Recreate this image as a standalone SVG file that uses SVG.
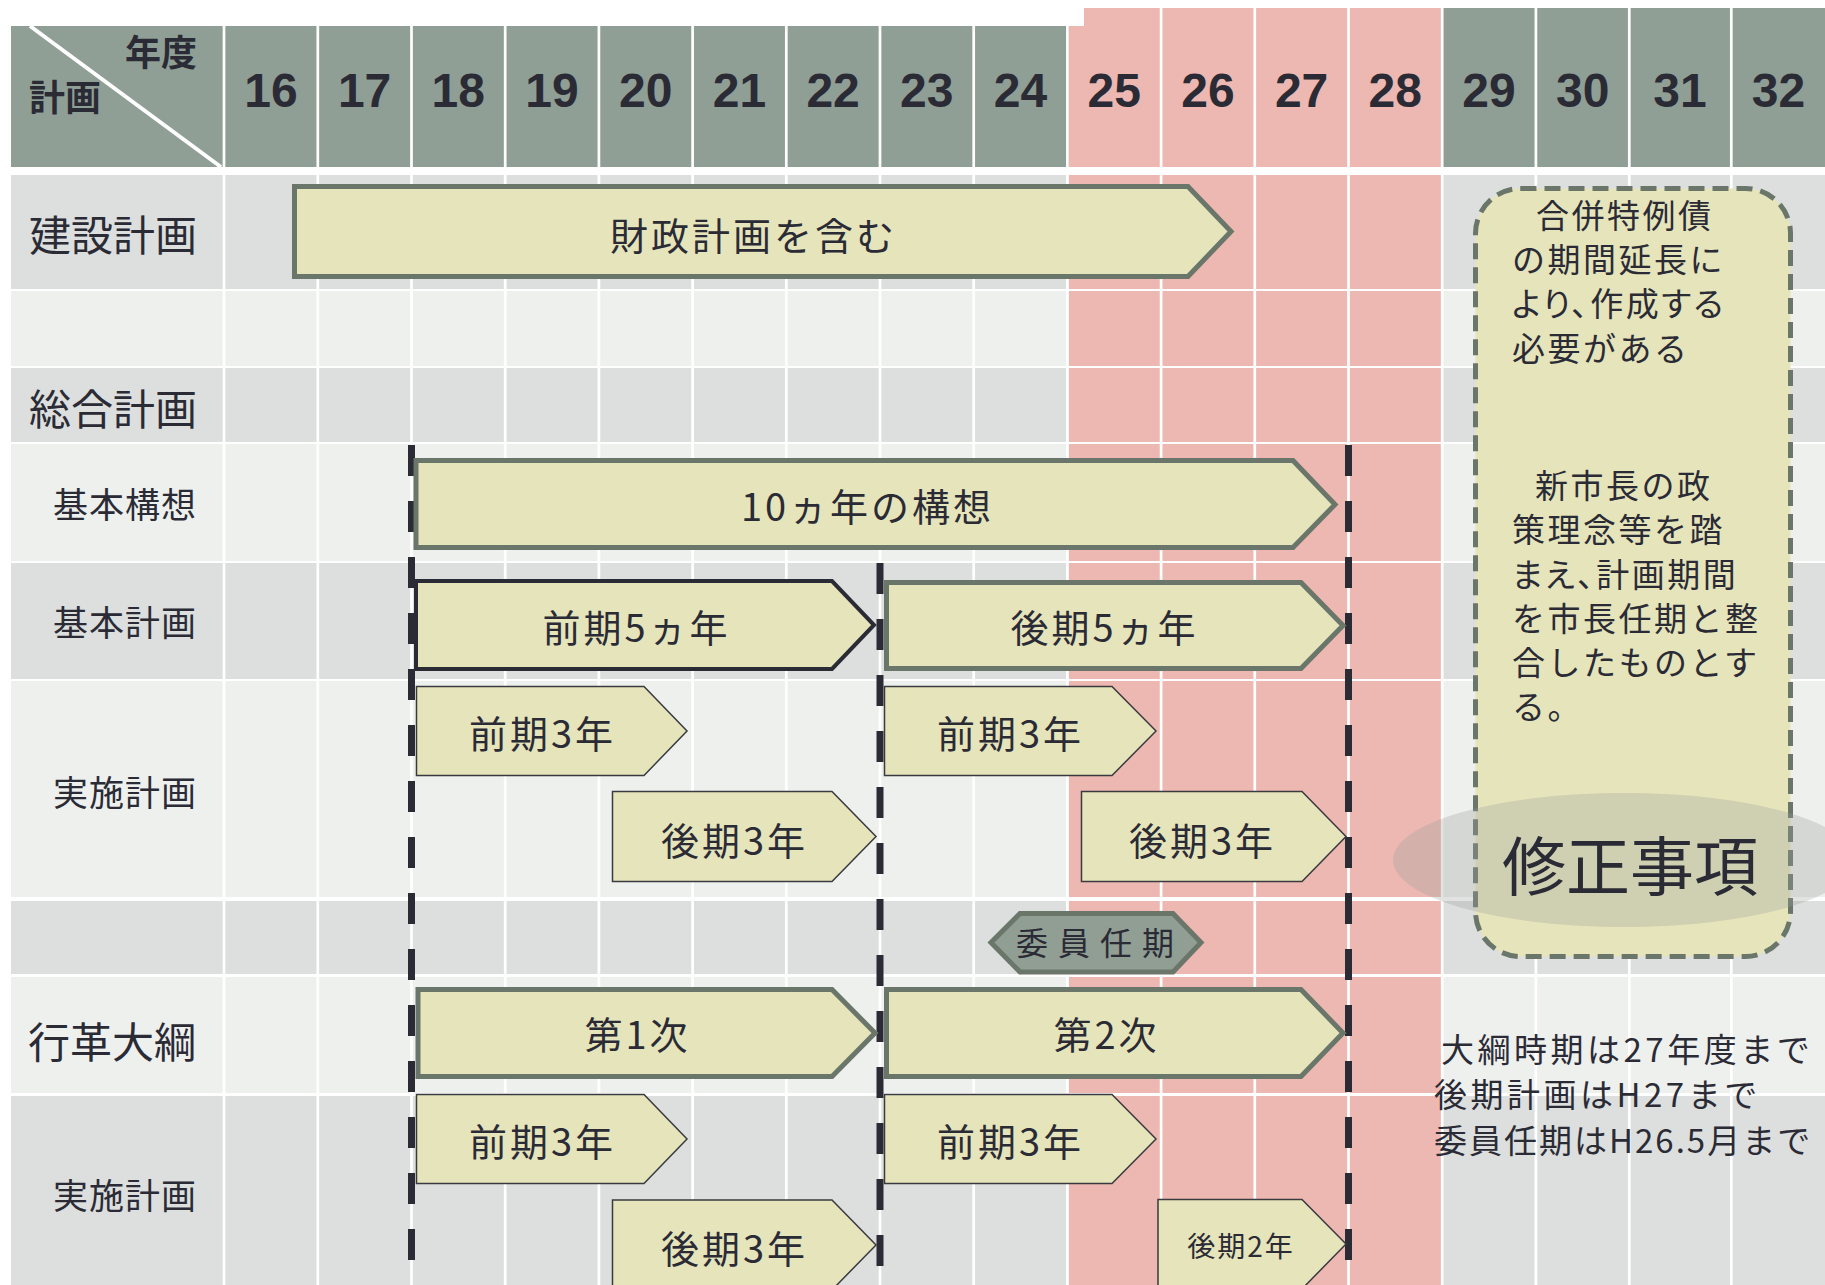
<svg xmlns="http://www.w3.org/2000/svg" width="1825" height="1285" viewBox="0 0 1825 1285">
<defs>
<style>
.hd{fill:#909f95}
.pk{fill:#ecb8b1}
.dk{fill:#dcdfdd}
.lt{fill:#eef0ee}
.gl{stroke:#ffffff;stroke-width:2.7}
.num{font-family:"Liberation Sans",Arial,sans-serif;font-weight:bold;font-size:48px;fill:#2b2b36;text-anchor:middle}
.jp{font-family:"Noto Sans CJK JP","Noto Sans CJK SC",sans-serif;fill:#2b2b36}
.bar{fill:#e5e4ba;stroke:#6b766a;stroke-width:5}
.bardk{fill:#e5e4ba;stroke:#2b2b36;stroke-width:4}
.barth{fill:#e5e4ba;stroke:#3a3a40;stroke-width:1.5}
.lbl{font-size:38px;text-anchor:middle;letter-spacing:3px}
.big{font-size:42px}
.mid{font-size:35px;letter-spacing:1px}
.dash{stroke:#2b2b36;stroke-width:7;stroke-dasharray:31 25;fill:none}
.note{font-size:33px;letter-spacing:2.5px}
.rem{font-size:33px;letter-spacing:3.5px}
.palt{font-feature-settings:"palt" 1}
</style>
</defs>
<rect x="0" y="0" width="1825" height="1285" fill="#ffffff"/>

<g id="grid">
<rect x="11" y="26" width="1058" height="141" class="hd"/>
<rect x="1068.7" y="8" width="372.3" height="159" class="pk"/>
<rect x="1441" y="8" width="384" height="159" class="hd"/>
<rect x="1060" y="0" width="24" height="26" fill="#ffffff"/>

<rect x="11" y="175" width="1814" height="114" class="dk"/>
<rect x="11" y="291" width="1814" height="75" class="lt"/>
<rect x="11" y="368" width="1814" height="74" class="dk"/>
<rect x="11" y="444" width="1814" height="117" class="lt"/>
<rect x="11" y="563" width="1814" height="116" class="dk"/>
<rect x="11" y="681" width="1814" height="216" class="lt"/>
<rect x="11" y="901" width="1814" height="73" class="dk"/>
<rect x="11" y="977" width="1814" height="116" class="lt"/>
<rect x="11" y="1096" width="1814" height="189" class="dk"/>

<rect x="1068.7" y="175" width="372.3" height="114" class="pk"/>
<rect x="1068.7" y="291" width="372.3" height="75" class="pk"/>
<rect x="1068.7" y="368" width="372.3" height="74" class="pk"/>
<rect x="1068.7" y="444" width="372.3" height="117" class="pk"/>
<rect x="1068.7" y="563" width="372.3" height="116" class="pk"/>
<rect x="1068.7" y="681" width="372.3" height="216" class="pk"/>
<rect x="1068.7" y="901" width="372.3" height="73" class="pk"/>
<rect x="1068.7" y="977" width="372.3" height="116" class="pk"/>
<rect x="1068.7" y="1096" width="372.3" height="189" class="pk"/>

<g class="gl">
<line x1="224" y1="0" x2="224" y2="1285"/>
<line x1="317.8" y1="0" x2="317.8" y2="1285"/>
<line x1="411.5" y1="0" x2="411.5" y2="1285"/>
<line x1="505.2" y1="0" x2="505.2" y2="1285"/>
<line x1="598.9" y1="0" x2="598.9" y2="1285"/>
<line x1="692.6" y1="0" x2="692.6" y2="1285"/>
<line x1="786.3" y1="0" x2="786.3" y2="1285"/>
<line x1="880" y1="0" x2="880" y2="1285"/>
<line x1="973.7" y1="0" x2="973.7" y2="1285"/>
<line x1="1067.4" y1="0" x2="1067.4" y2="1285"/>
<line x1="1161.1" y1="0" x2="1161.1" y2="1285"/>
<line x1="1254.8" y1="0" x2="1254.8" y2="1285"/>
<line x1="1348.5" y1="0" x2="1348.5" y2="1285"/>
<line x1="1442.2" y1="0" x2="1442.2" y2="1285"/>
<line x1="1535.9" y1="0" x2="1535.9" y2="1285"/>
<line x1="1629.3" y1="0" x2="1629.3" y2="1285"/>
<line x1="1731.3" y1="0" x2="1731.3" y2="1285"/>
</g>
<line x1="30" y1="26" x2="221" y2="167" stroke="#ffffff" stroke-width="4"/>
</g>

<g id="header-text">
<text x="125" y="66" class="jp" font-size="36" font-weight="bold">年度</text>
<text x="29" y="111" class="jp" font-size="36" font-weight="bold">計画</text>
<text class="num" y="107">
<tspan x="271">16</tspan><tspan x="364.6">17</tspan><tspan x="458.3">18</tspan><tspan x="552">19</tspan><tspan x="645.7">20</tspan><tspan x="739.4">21</tspan><tspan x="833.1">22</tspan><tspan x="926.8">23</tspan><tspan x="1020.5">24</tspan><tspan x="1114.2">25</tspan><tspan x="1207.9">26</tspan><tspan x="1301.6">27</tspan><tspan x="1395.3">28</tspan><tspan x="1489">29</tspan><tspan x="1582.7">30</tspan><tspan x="1680">31</tspan><tspan x="1778.5">32</tspan>
</text>
</g>

<g id="row-labels">
<text x="29" y="251" class="jp big">建設計画</text>
<text x="29" y="425" class="jp big">総合計画</text>
<text x="53" y="518" class="jp mid">基本構想</text>
<text x="53" y="636" class="jp mid">基本計画</text>
<text x="53" y="806" class="jp mid">実施計画</text>
<text x="28" y="1058" class="jp big">行革大綱</text>
<text x="53" y="1209" class="jp mid">実施計画</text>
</g>

<g id="connectors">
<line x1="411.5" y1="445" x2="411.5" y2="1285" class="dash"/>
<line x1="880" y1="563" x2="880" y2="1285" class="dash"/>
<line x1="1348.5" y1="445" x2="1348.5" y2="1285" class="dash"/>
</g>

<g id="bar-kensetsu">
<path class="bar" d="M294.5,186.5 H1188 L1231,231.5 L1188,276.5 H294.5 Z"/>
<text x="753.5" y="250" class="jp lbl">財政計画を含む</text>
</g>
<g id="bar-kihonkoso">
<path class="bar" d="M416,460.5 H1293 L1335,504.5 L1293,547.5 H416 Z"/>
<text x="867.5" y="521" class="jp lbl">10ヵ年の構想</text>
</g>
<g id="bar-zenki5">
<path class="bardk" d="M416,581 H832 L874,625 L832,669 H416 Z"/>
<text x="636.5" y="642" class="jp lbl">前期5ヵ年</text>
</g>
<g id="bar-koki5">
<path class="bar" d="M886.5,582.5 H1301 L1343,625.5 L1301,668.5 H886.5 Z"/>
<text x="1104.5" y="642" class="jp lbl">後期5ヵ年</text>
</g>
<g id="bar-jisshi1-zenki-a">
<path class="barth" d="M416.5,686.5 H644 L687,731 L644,775.5 H416.5 Z"/>
<text x="542.5" y="748" class="jp lbl">前期3年</text>
</g>
<g id="bar-jisshi1-koki-a">
<path class="barth" d="M612.5,791.5 H832 L876,836.5 L832,881.5 H612.5 Z"/>
<text x="734.5" y="855" class="jp lbl">後期3年</text>
</g>
<g id="bar-jisshi1-zenki-b">
<path class="barth" d="M884.5,686.5 H1112 L1156,731 L1112,775.5 H884.5 Z"/>
<text x="1010.5" y="748" class="jp lbl">前期3年</text>
</g>
<g id="bar-jisshi1-koki-b">
<path class="barth" d="M1081.5,791.5 H1302 L1346,836.5 L1302,881.5 H1081.5 Z"/>
<text x="1202.5" y="855" class="jp lbl">後期3年</text>
</g>
<g id="iin-ninki">
<path d="M991,942.5 L1020,913.5 H1173 L1201,942.5 L1173,972 H1020 Z" fill="#909e94" stroke="#6b766a" stroke-width="5"/>
<text x="1100" y="955" class="jp" font-size="32" letter-spacing="10" text-anchor="middle">委員任期</text>
</g>
<g id="bar-daiichiji">
<path class="bar" d="M418,989.5 H832 L875,1033 L832,1076.5 H418 Z"/>
<text x="637.5" y="1049" class="jp lbl">第1次</text>
</g>
<g id="bar-dainiji">
<path class="bar" d="M886.5,989.5 H1301 L1343,1033 L1301,1076.5 H886.5 Z"/>
<text x="1106.5" y="1049" class="jp lbl">第2次</text>
</g>
<g id="bar-jisshi2-zenki-a">
<path class="barth" d="M416.5,1094.5 H644 L687,1139 L644,1183.5 H416.5 Z"/>
<text x="542.5" y="1156" class="jp lbl">前期3年</text>
</g>
<g id="bar-jisshi2-koki-a">
<path class="barth" d="M612.5,1200 H832 L876,1245 L832,1290 H612.5 Z"/>
<text x="734.5" y="1263" class="jp lbl">後期3年</text>
</g>
<g id="bar-jisshi2-zenki-b">
<path class="barth" d="M884.5,1094.5 H1112 L1156,1139 L1112,1183.5 H884.5 Z"/>
<text x="1010.5" y="1156" class="jp lbl">前期3年</text>
</g>
<g id="bar-jisshi2-koki-b">
<path class="barth" d="M1158,1199.5 H1302 L1346,1244 L1302,1289 H1158 Z"/>
<text x="1241" y="1257" class="jp" font-size="28" letter-spacing="2" text-anchor="middle">後期2年</text>
</g>

<g id="note-box">
<rect x="1475.5" y="188.5" width="315" height="768" rx="45" ry="45" fill="#e5e4ba" stroke="#6b766a" stroke-width="5" stroke-dasharray="16 8"/>
<g class="jp note">
<text x="1536" y="228">合併特例債</text>
<text x="1512" y="272">の期間延長に</text>
<text x="1512" y="316" class="palt">より、作成する</text>
<text x="1512" y="361">必要がある</text>
<text x="1535" y="498">新市長の政</text>
<text x="1512" y="542">策理念等を踏</text>
<text x="1512" y="587" class="palt">まえ、計画期間</text>
<text x="1512" y="631">を市長任期と整</text>
<text x="1512" y="675">合したものとす</text>
<text x="1512" y="719">る。</text>
</g>
<ellipse cx="1624" cy="860" rx="231" ry="67" fill="#9a9e9a" fill-opacity="0.3"/>
<text x="1502" y="890" class="jp" font-size="64">修正事項</text>
</g>

<g id="remarks" class="jp rem">
<text x="1441" y="1062">大綱時期は27年度まで</text>
<text x="1434" y="1107">後期計画はH27まで</text>
<text x="1434" y="1153" letter-spacing="2">委員任期はH26.5月まで</text>
</g>
</svg>
